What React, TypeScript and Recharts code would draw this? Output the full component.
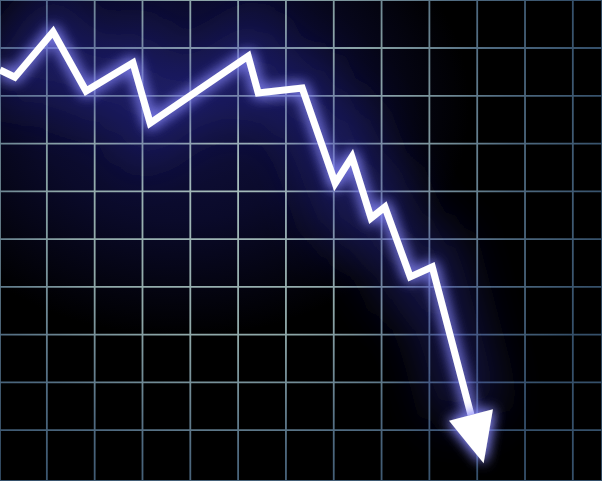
import React from "react";
import { LineChart, Line, XAxis, YAxis, CartesianGrid } from "recharts";

// line vertices, in grid units (one grid cell = 1)
const xValues = [0.02, 0.33, 1.13, 1.82, 2.8, 3.16, 5.21, 5.42, 6.34, 7.03, 7.38, 7.78, 8.07, 8.6, 9.06, 9.87];
const yValues = [8.54, 8.39, 9.34, 8.1, 8.69, 7.43, 8.83, 8.06, 8.16, 6.17, 6.72, 5.44, 5.67, 4.21, 4.42, 1.32];

const xTicks = [1, 2, 3, 4, 5, 6, 7, 8, 9, 10, 11, 12];
const yTicks = [0, 1, 2, 3, 4, 5, 6, 7, 8, 9];

const W = 602;
const H = 481;
const xDomain: [number, number] = [0.02, 12.61];
const yDomain: [number, number] = [-0.063, 10.005];

const data = xValues.map((x, i) => ({ x, y: yValues[i] }));

const pxX = W / (xDomain[1] - xDomain[0]);
const pxY = H / (yDomain[1] - yDomain[0]);

// arrow head on the last point, pointing along the last segment
const ArrowDot = (props: any) => {
  const { cx, cy, index } = props;
  const last = data.length - 1;
  if (index !== last || cx == null) return <g key={`d-${index}`} />;
  const prev = data[last - 1];
  const cur = data[last];
  const dx = (cur.x - prev.x) * pxX;
  const dy = (prev.y - cur.y) * pxY;
  const len = Math.sqrt(dx * dx + dy * dy);
  const ux = dx / len;
  const uy = dy / len;
  const headLen = 50;
  const half = 22.7;
  const tip = [cx + ux * headLen, cy + uy * headLen];
  const a = [cx - uy * half, cy + ux * half];
  const b = [cx + uy * half, cy - ux * half];
  return (
    <polygon
      key="arrow"
      points={`${tip[0]},${tip[1]} ${a[0]},${a[1]} ${b[0]},${b[1]}`}
      fill="#ffffff"
      filter="url(#glow)"
    />
  );
};

const App = () => {
  return (
    <div
      style={{
        position: "absolute",
        left: 0,
        top: 0,
        width: W,
        height: H,
        background:
          "radial-gradient(ellipse 48% 48% at 30% 22%, #111140 0%, #0a0a2a 50%, #000000 100%), #000",
      }}
    >
      <LineChart width={W} height={H} data={data} margin={{ top: 0, right: 0, bottom: 0, left: 0 }}>
        <defs>
          <radialGradient id="gridGrad" gradientUnits="userSpaceOnUse" cx="230" cy="170" r="380">
            <stop offset="0%" stopColor="#a8bebd" />
            <stop offset="45%" stopColor="#8fa8a8" />
            <stop offset="75%" stopColor="#4f6a80" />
            <stop offset="100%" stopColor="#35506a" />
          </radialGradient>
          <filter id="halo" filterUnits="userSpaceOnUse" x="-100" y="-100" width={W + 200} height={H + 200}>
            <feGaussianBlur stdDeviation="24" />
          </filter>
          <filter id="glow" filterUnits="userSpaceOnUse" x="-50" y="-50" width={W + 100} height={H + 100}>
            <feGaussianBlur in="SourceAlpha" stdDeviation="7" result="blur" />
            <feFlood floodColor="#8a8aff" floodOpacity="0.9" />
            <feComposite in2="blur" operator="in" result="glowColor" />
            <feMerge>
              <feMergeNode in="glowColor" />
              <feMergeNode in="glowColor" />
              <feMergeNode in="SourceGraphic" />
            </feMerge>
          </filter>
        </defs>
        <XAxis type="number" dataKey="x" domain={xDomain} ticks={xTicks} hide allowDataOverflow />
        <YAxis type="number" domain={yDomain} ticks={yTicks} hide allowDataOverflow />
        <CartesianGrid stroke="url(#gridGrad)" strokeWidth={1.8} />
        <Line
          dataKey="y"
          type="linear"
          stroke="#2a2a9a"
          strokeOpacity={0.45}
          strokeWidth={60}
          filter="url(#halo)"
          dot={false}
          activeDot={false}
          isAnimationActive={false}
        />
        <Line
          dataKey="y"
          type="linear"
          stroke="#ffffff"
          strokeWidth={7}
          strokeLinejoin="miter"
          filter="url(#glow)"
          dot={ArrowDot}
          activeDot={false}
          isAnimationActive={false}
        />
      </LineChart>
    </div>
  );
};

export default App;
